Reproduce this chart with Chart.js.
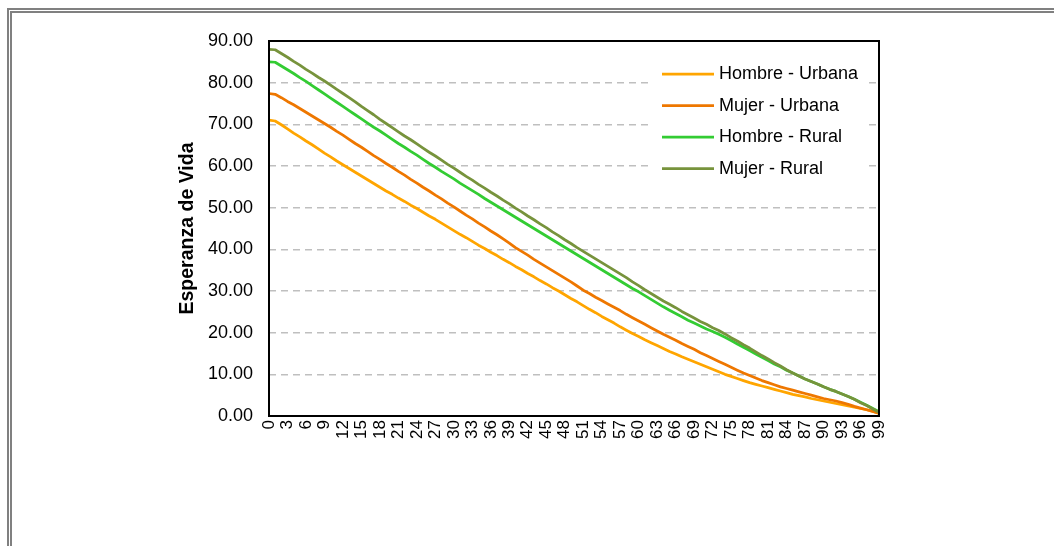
<!DOCTYPE html>
<html><head><meta charset="utf-8">
<script src="https://cdn.jsdelivr.net/npm/chart.js@4.4.1/dist/chart.umd.min.js"></script>
<style>
html,body{margin:0;padding:0;background:#fff;overflow:hidden;width:1054px;height:546px;}
.fr{position:absolute;width:2000px;height:1000px;border-left:2px solid #808080;border-top:2px solid #808080;}
#f1{left:7px;top:8px;}
#f2{left:10px;top:11px;}
#wrap{position:absolute;left:0;top:0;width:1054px;height:546px;}
</style></head><body>
<div class="fr" id="f1"></div>
<div class="fr" id="f2"></div>
<div id="wrap"><canvas id="c" width="1054" height="546"></canvas></div>
<script>
const edades = ["0","1","2","3","4","5","6","7","8","9","10","11","12","13","14","15","16","17","18","19","20","21","22","23","24","25","26","27","28","29","30","31","32","33","34","35","36","37","38","39","40","41","42","43","44","45","46","47","48","49","50","51","52","53","54","55","56","57","58","59","60","61","62","63","64","65","66","67","68","69","70","71","72","73","74","75","76","77","78","79","80","81","82","83","84","85","86","87","88","89","90","91","92","93","94","95","96","97","98","99"];

const hombreUrbana = [71.0,70.8,69.9,68.9,67.9,67.0,66.0,65.1,64.1,63.1,
 62.2,61.2,60.3,59.4,58.5,57.6,56.7,55.8,54.9,54.0,
 53.2,52.3,51.5,50.6,49.8,48.9,48.0,47.2,46.3,45.4,
 44.5,43.6,42.8,41.9,41.0,40.2,39.3,38.5,37.6,36.8,
 35.9,35.1,34.2,33.4,32.5,31.7,30.8,30.0,29.1,28.2,
 27.4,26.5,25.6,24.8,23.9,23.1,22.3,21.4,20.6,19.8,
 19.1,18.3,17.6,16.9,16.2,15.5,14.9,14.2,13.6,13.0,
 12.4,11.8,11.2,10.6,10.0,9.5,9.0,8.5,8.0,7.6,
 7.2,6.8,6.4,6.0,5.6,5.2,4.9,4.6,4.2,3.9,
 3.6,3.3,3.0,2.7,2.4,2.1,1.8,1.5,1.1,0.6];

const mujerUrbana = [77.4,77.2,76.4,75.5,74.7,73.8,72.9,72.0,71.1,70.2,
 69.3,68.3,67.4,66.4,65.4,64.5,63.5,62.5,61.6,60.6,
 59.7,58.7,57.8,56.8,55.9,54.9,54.0,53.0,52.1,51.1,
 50.2,49.2,48.2,47.3,46.3,45.4,44.4,43.5,42.5,41.5,
 40.4,39.5,38.6,37.6,36.7,35.8,34.9,34.0,33.1,32.2,
 31.2,30.2,29.4,28.5,27.7,26.9,26.1,25.3,24.4,23.6,
 22.8,22.0,21.2,20.4,19.6,18.9,18.2,17.4,16.7,16.0,
 15.2,14.5,13.8,13.1,12.4,11.7,11.0,10.3,9.7,9.1,
 8.5,8.0,7.5,7.0,6.6,6.2,5.8,5.4,5.0,4.6,
 4.2,3.9,3.6,3.2,2.8,2.3,1.9,1.5,1.1,0.7];

const hombreRural = [85.0,84.9,84.0,83.1,82.2,81.2,80.3,79.3,78.3,77.3,
 76.3,75.3,74.3,73.3,72.3,71.3,70.3,69.3,68.4,67.4,
 66.4,65.4,64.5,63.5,62.6,61.6,60.6,59.7,58.7,57.8,
 56.9,55.9,55.0,54.1,53.2,52.2,51.3,50.4,49.5,48.6,
 47.7,46.8,45.9,45.0,44.1,43.2,42.3,41.4,40.5,39.6,
 38.7,37.8,36.9,36.0,35.1,34.2,33.3,32.4,31.5,30.6,
 29.8,28.9,28.0,27.1,26.2,25.4,24.6,23.8,23.0,22.3,
 21.6,20.9,20.3,19.6,18.9,18.1,17.3,16.5,15.7,14.9,
 14.1,13.3,12.5,11.8,11.0,10.3,9.6,8.9,8.3,7.7,
 7.0,6.4,5.9,5.3,4.7,4.0,3.3,2.6,1.8,1.0];

const mujerRural = [88.0,87.9,87.0,86.1,85.1,84.2,83.2,82.3,81.3,80.4,
 79.4,78.4,77.4,76.4,75.4,74.3,73.3,72.3,71.2,70.2,
 69.2,68.2,67.2,66.3,65.3,64.3,63.3,62.4,61.4,60.4,
 59.5,58.5,57.5,56.6,55.6,54.7,53.7,52.8,51.8,50.9,
 49.9,49.0,48.0,47.1,46.1,45.2,44.2,43.3,42.3,41.4,
 40.4,39.5,38.6,37.7,36.8,35.9,35.0,34.1,33.2,32.2,
 31.3,30.3,29.4,28.5,27.6,26.8,26.0,25.1,24.3,23.5,
 22.7,22.0,21.2,20.5,19.7,18.8,18.0,17.1,16.3,15.4,
 14.5,13.7,12.8,12.0,11.1,10.3,9.6,8.9,8.3,7.7,
 7.0,6.4,5.9,5.3,4.7,4.0,3.2,2.5,1.7,0.9];

const nombresSeries = ["Hombre - Urbana","Mujer - Urbana","Hombre - Rural","Mujer - Rural"];
const tituloY = "Esperanza de Vida";

const FONT = "'Liberation Sans', Arial, Helvetica, sans-serif";
Chart.defaults.font.family = FONT;
Chart.defaults.color = '#000';

const legendPlugin = {
  id: 'insideLegend',
  beforeDatasetsDraw(chart) {
    const {ctx, chartArea: a} = chart;
    ctx.save();
    ctx.fillStyle = '#fff';
    ctx.fillRect(a.right - 231, a.top + 16, 220, 130);
    chart.data.datasets.forEach((ds, i) => {
      const y = a.top + 33 + i * 31.5;
      ctx.strokeStyle = ds.borderColor;
      ctx.lineWidth = 2.75;
      ctx.beginPath();
      ctx.moveTo(a.right - 217, y);
      ctx.lineTo(a.right - 165, y);
      ctx.stroke();
      ctx.fillStyle = '#000';
      ctx.font = '18px ' + FONT;
      ctx.textBaseline = 'middle';
      ctx.textAlign = 'left';
      ctx.fillText(ds.label, a.right - 160, y + 0.5);
    });
    ctx.restore();
  }
};

const framePlugin = {
  id: 'frameBox',
  afterDatasetsDraw(chart) {
    const {ctx, chartArea: a} = chart;
    ctx.save();
    ctx.strokeStyle = '#000';
    ctx.lineWidth = 2;
    ctx.strokeRect(a.left, a.top, a.right - a.left, a.bottom - a.top);
    ctx.restore();
  }
};

new Chart(document.getElementById('c'), {
  type: 'line',
  data: {
    labels: edades,
    datasets: [
      {label: nombresSeries[0], data: hombreUrbana, borderColor: '#FFA500', order: 4},
      {label: nombresSeries[1], data: mujerUrbana, borderColor: '#EE7700', order: 3},
      {label: nombresSeries[2], data: hombreRural, borderColor: '#33CC33', order: 2},
      {label: nombresSeries[3], data: mujerRural, borderColor: '#77933C', order: 1}
    ]
  },
  options: {
    responsive: false,
    animation: false,
    devicePixelRatio: 1,
    layout: {padding: {left: 176, right: 175, top: 41, bottom: 100}},
    elements: {
      line: {borderWidth: 2.75, tension: 0, borderJoinStyle: 'round', fill: false},
      point: {radius: 0, hoverRadius: 0}
    },
    plugins: {legend: {display: false}, tooltip: {enabled: false}},
    scales: {
      x: {
        type: 'category',
        offset: false,
        grid: {display: false, drawTicks: false},
        border: {display: false},
        ticks: {
          autoSkip: false, maxRotation: 90, minRotation: 90, padding: 4,
          font: {size: 17}, color: '#000',
          callback: function (v, i) { return i % 3 === 0 ? this.getLabelForValue(v) : null; }
        },
        afterFit(s) { s.height = 30; }
      },
      y: {
        min: 0, max: 90,
        ticks: {stepSize: 10, padding: 16, font: {size: 18}, color: '#000', callback: v => v.toFixed(2)},
        grid: {
          color: c => (c.tick && (c.tick.value === 0 || c.tick.value === 90)) ? 'rgba(0,0,0,0)' : '#BFBFBF',
          lineWidth: 1.5, drawTicks: false
        },
        border: {display: false, dash: [7, 5]},
        title: {display: true, text: tituloY, font: {size: 19.5, weight: 'bold'}, padding: 0, color: '#000'},
        afterFit(s) { s.width = 93; }
      }
    }
  },
  plugins: [legendPlugin, framePlugin]
});
</script>
</body></html>
